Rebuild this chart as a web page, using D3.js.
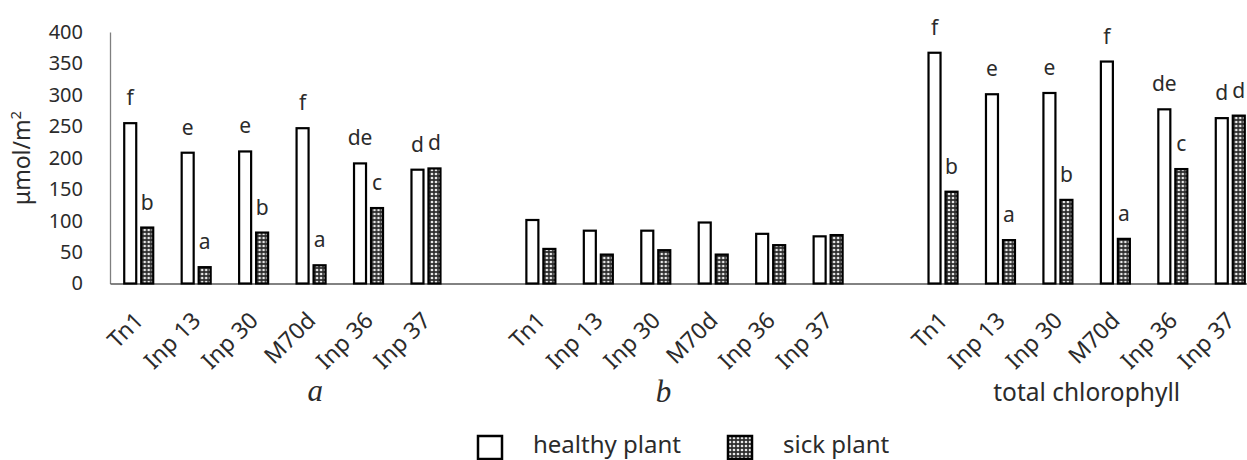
<!DOCTYPE html>
<html>
<head>
<meta charset="utf-8">
<script src="https://cdn.jsdelivr.net/npm/d3@7"></script>
<style>
  html, body { margin: 0; padding: 0; background: #fff; }
  svg { display: block; }
  text { font-family: "Noto Sans", sans-serif; fill: #2b2b2b; }
</style>
</head>
<body>
<svg id="chart" width="1247" height="460"></svg>
<script>
// ---- data ----
const cultivars = ["Tn1", "Inp 13", "Inp 30", "M70d", "Inp 36", "Inp 37"];
const groupNames = ["a", "b", "total chlorophyll"];
const seriesNames = ["healthy plant", "sick plant"];

const healthyA = [255, 208, 210, 247, 191, 181];
const sickA    = [89, 26, 81, 29, 120, 183];
const healthyB = [101, 84, 84, 97, 79, 75];
const sickB    = [55, 46, 53, 46, 61, 77];
const healthyT = [367, 301, 303, 353, 277, 263];
const sickT    = [146, 69, 133, 71, 182, 267];

const lettersHealthyA = ["f", "e", "e", "f", "de", "d"];
const lettersSickA    = ["b", "a", "b", "a", "c", "d"];
const lettersHealthyT = ["f", "e", "e", "f", "de", "d"];
const lettersSickT    = ["b", "a", "b", "a", "c", "d"];

const yTicks = [0, 50, 100, 150, 200, 250, 300, 350, 400];

// ---- build slots (two blank slots separate the groups) ----
const groupData = [
  { name: groupNames[0], healthy: healthyA, sick: sickA, lh: lettersHealthyA, ls: lettersSickA },
  { name: groupNames[1], healthy: healthyB, sick: sickB, lh: null, ls: null },
  { name: groupNames[2], healthy: healthyT, sick: sickT, lh: lettersHealthyT, ls: lettersSickT }
];
const slots = [];
const rows = [];
groupData.forEach((g, gi) => {
  cultivars.forEach((c, ci) => {
    const key = gi + "-" + ci;
    slots.push(key);
    rows.push({
      key, label: c, group: gi,
      values: [
        { s: seriesNames[0], v: g.healthy[ci], letter: g.lh ? g.lh[ci] : null },
        { s: seriesNames[1], v: g.sick[ci], letter: g.ls ? g.ls[ci] : null }
      ]
    });
  });
  if (gi < groupData.length - 1) slots.push("gap" + gi);
});

const svg = d3.select("#chart");

// pattern for sick plants
const defs = svg.append("defs");
const pat = defs.append("pattern").attr("id", "dots")
  .attr("patternUnits", "userSpaceOnUse").attr("width", 4).attr("height", 4);
pat.append("rect").attr("width", 4).attr("height", 4).attr("fill", "#2e2e2e");
pat.append("circle").attr("cx", 2).attr("cy", 2).attr("r", 1.35).attr("fill", "#e8e8e8");

// ---- scales ----
const x = d3.scaleBand().domain(slots).range([110, 1259]).padding(0);
const xSub = d3.scaleBand().domain(seriesNames).range([-15.5, 15.5]).paddingInner(0.176);
const y = d3.scaleLinear().domain([0, 400]).range([283.5, 32]);

// ---- y axis ----
const yAxis = d3.axisLeft(y).tickValues(yTicks).tickSize(0).tickPadding(27);
const gy = svg.append("g").attr("transform", "translate(110,0)").call(yAxis);
gy.select(".domain").attr("stroke", "#7f7f7f").attr("stroke-width", 1.3);
gy.selectAll("text").style("font-size", "20px").style("font-family", "Noto Sans").attr("fill", "#2b2b2b");

svg.append("text")
  .attr("transform", "translate(30,158) rotate(-90)")
  .attr("text-anchor", "middle")
  .style("font-size", "23px")
  .html('μmol/m<tspan dy="-9" font-size="15px">2</tspan>');

// ---- x axis baseline ----
const xAxis = d3.axisBottom(x).tickSize(0).tickFormat(() => "");
const gx = svg.append("g").attr("transform", "translate(0," + y(0) + ")").call(xAxis);
gx.select(".domain").attr("stroke", "#595959").attr("stroke-width", 1.5);

// ---- bars ----
const slotG = svg.append("g").selectAll("g").data(rows).join("g")
  .attr("transform", d => "translate(" + (x(d.key) + x.bandwidth() / 2) + ",0)");

slotG.selectAll("rect").data(d => d.values).join("rect")
  .attr("x", d => xSub(d.s) + 1)
  .attr("width", xSub.bandwidth() - 2)
  .attr("y", d => y(d.v))
  .attr("height", d => y(0) - y(d.v))
  .attr("fill", d => d.s === seriesNames[0] ? "#fff" : "url(#dots)")
  .attr("stroke", "#000")
  .attr("stroke-width", 2.2);

// significance letters
slotG.selectAll("text.letter").data(d => d.values.filter(v => v.letter)).join("text")
  .attr("class", "letter")
  .attr("x", d => xSub(d.s) + xSub.bandwidth() / 2)
  .attr("y", d => y(d.v) - 18)
  .attr("text-anchor", "middle")
  .style("font-size", "21px")
  .text(d => d.letter);

// category labels
svg.append("g").selectAll("text").data(rows).join("text")
  .attr("transform", d => "translate(" + (x(d.key) + x.bandwidth() / 2 + 6) + ",322) rotate(-45)")
  .attr("text-anchor", "end")
  .style("font-size", "23px")
  .text(d => d.label);

// group labels
const groupCenter = gi => {
  const first = x(gi + "-0");
  const last = x(gi + "-5") + x.bandwidth();
  return (first + last) / 2;
};
svg.append("text").attr("x", groupCenter(0) + 33).attr("y", 401)
  .attr("text-anchor", "middle")
  .style("font-family", "Liberation Serif").style("font-style", "italic").style("font-size", "31px")
  .attr("fill", "#000").text(groupNames[0]);
svg.append("text").attr("x", groupCenter(1) - 21).attr("y", 402)
  .attr("text-anchor", "middle")
  .style("font-family", "Liberation Serif").style("font-style", "italic").style("font-size", "31px")
  .attr("fill", "#000").text(groupNames[1]);
svg.append("text").attr("x", groupCenter(2)).attr("y", 401)
  .attr("text-anchor", "middle")
  .style("font-size", "24.5px")
  .text(groupNames[2]);

// ---- legend ----
const legendItems = [
  { s: seriesNames[0], x: 478 },
  { s: seriesNames[1], x: 728 }
];
const lg = svg.append("g").selectAll("g").data(legendItems).join("g")
  .attr("transform", d => "translate(" + d.x + ",436)");
lg.append("rect").attr("width", 24).attr("height", 23)
  .attr("fill", d => d.s === seriesNames[0] ? "#fff" : "url(#dots)")
  .attr("stroke", "#000").attr("stroke-width", 2.5);
lg.append("text").attr("x", 55).attr("y", 17)
  .style("font-size", "24px")
  .text(d => d.s);
</script>
</body>
</html>
